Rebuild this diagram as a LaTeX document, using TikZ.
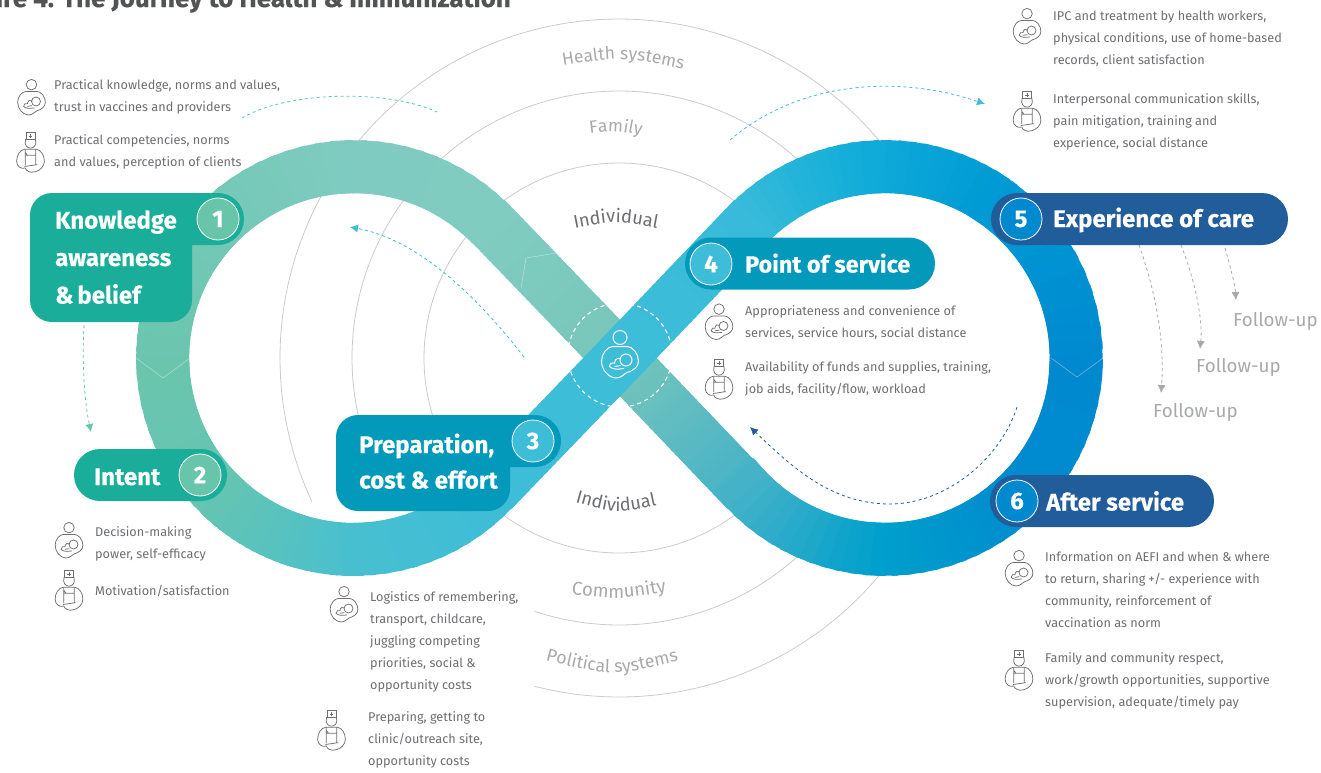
\documentclass[tikz,border=0pt]{standalone}
\usepackage{fontspec}
\setmainfont{Fira Sans}
\usetikzlibrary{arrows.meta,decorations.text}
\definecolor{greenlab}{HTML}{19AD9A}
\definecolor{greencirc}{HTML}{69C5A9}
\definecolor{cyanlab}{HTML}{0299BB}
\definecolor{cyancirc}{HTML}{3DBDD8}
\definecolor{navylab}{HTML}{215C9B}
\definecolor{bluecirc}{HTML}{0089CF}
\definecolor{bodygray}{HTML}{6D6E71}
\definecolor{palegray}{HTML}{A8A9AB}
\definecolor{ringgray}{HTML}{CBCBCB}
\newcommand{\bandline}[6]{%
  \definecolor{stopa}{HTML}{#5}\definecolor{stopb}{HTML}{#6}%
  \foreach \t in {0,...,30}{%
    \pgfmathsetmacro\pct{100*\t/30}%
    \pgfmathsetmacro\ta{\t/30}%
    \pgfmathsetmacro\tb{(\t+1.6)/30}%
    \draw[bandstroke,draw={stopb!\pct!stopa}]
      ({#1+\ta*(#3-(#1))},{#2+\ta*(#4-(#2))}) -- ({#1+\tb*(#3-(#1))},{#2+\tb*(#4-(#2))});
  }}
% centre x, start angle, end angle, colours
\newcommand{\bandarc}[5]{%
  \definecolor{stopa}{HTML}{#4}\definecolor{stopb}{HTML}{#5}%
  \foreach \t in {0,...,12}{%
    \pgfmathsetmacro\pct{100*\t/12}%
    \pgfmathsetmacro\aa{#2+\t/12*(#3-(#2))}%
    \pgfmathsetmacro\ab{#2+(\t+1.6)/12*(#3-(#2))}%
    \draw[bandstroke,draw={stopb!\pct!stopa}]
      ({#1+191.5*cos(\aa)},{358-191.5*sin(\aa)}) -- ({#1+191.5*cos(\ab)},{358-191.5*sin(\ab)});
  }}
\newcommand{\ringarc}[3]{%
  \draw[ringline] plot[smooth,domain=#2:#3,samples=80] ({619+#1*cos(\x)},{358-#1*sin(\x)});}
\newcommand{\bodynote}[4]{%
  \node[bodytext] (#1) at (#2,#3-10) {\rule{0pt}{10pt}#4};}
\tikzset{
  bandstroke/.style={line width=53pt},
  ringline/.style={draw=ringgray,line width=0.8pt},
  bodytext/.style={anchor=north west,inner sep=0pt,align=left,text=bodygray,font=\fontsize{12.7}{22}\selectfont},
  headtext/.style={anchor=base west,inner sep=0pt,text=white,font=\fontsize{24}{26}\selectfont\bfseries\addfontfeature{FakeBold=0.35}},
  numcirc/.style={circle,draw=white,line width=0.8pt,minimum size=42pt,inner sep=0pt,text=white,font=\fontsize{24}{25}\selectfont\bfseries\addfontfeature{FakeBold=0.35}},
  followtext/.style={anchor=base west,inner sep=0pt,text=palegray,font=\fontsize{18.8}{20}\selectfont},
  dashcurve/.style={line width=0.8pt,dash pattern=on 3pt off 3pt},
  tipped/.style={-{Latex[length=8pt,width=8pt]}},
  mother/.pic={
    \draw[pic actions] (0,-16.5) circle[radius=7];
    \draw[pic actions] (-7,-7.5) -- (7,-7.5) .. controls (13,-7.5) and (18.5,0) .. (18.5,7) .. controls (18.5,13) and (13,17) .. (7,18.5) .. controls (4,19.5) and (2,24) .. (-4,24) .. controls (-11,24) and (-18.5,16) .. (-18.5,7) .. controls (-18.5,0) and (-13,-7.5) .. (-7,-7.5) -- cycle;
    \draw[pic actions] (6,6) circle[radius=6];
    \draw[pic actions] (1,5) .. controls (-2,3) and (-5,5) .. (-5.5,9) .. controls (-8,8) and (-10,9) .. (-10.5,12.5) .. controls (-8,15.5) and (-2,15.5) .. (4,14.5) (-5.5,12.5) -- (0.5,11.5);
  },
  worker/.pic={
    \draw[pic actions] (-6,-27) rectangle (6,-18.5);
    \draw[pic actions] (-2.5,-22.7) -- (2.5,-22.7) (0,-25.2) -- (0,-20.2);
    \draw[pic actions] (-6.5,-18.5) .. controls (-9,-10) and (-4,-6.5) .. (0,-6.5) .. controls (4,-6.5) and (9,-10) .. (6.5,-18.5);
    \draw[pic actions] (-8,-5) .. controls (-14,-4) and (-18.5,3) .. (-18.5,11) .. controls (-18.5,18) and (-12,22) .. (-7,20) .. controls (-6,24) and (0,27) .. (6,25) .. controls (12,24) and (18.5,18) .. (18.5,11) .. controls (18.5,3) and (14,-4) .. (8,-5) -- cycle;
    \draw[pic actions] (-7,-5) -- (-7,16) (7,-5) -- (7,15) (-7,3) -- (7,3) (-7,-1) -- (-4,3) (-8,18) -- (9,15.5);
  },
  iconline/.style={draw=bodygray,line width=0.75pt,scale=0.75},
  chev/.style={draw=white,draw opacity=0.45,line width=0.5pt}
}
\begin{document}
\begin{tikzpicture}[x=1pt,y=-1pt]
\useasboundingbox (0,0) rectangle (1321,772);
\clip (0,0) rectangle (1321,772);
% rings
\ringarc{339}{36}{205}
\ringarc{339}{255.6}{320}
\ringarc{267}{46}{215}
\ringarc{267}{251.6}{313}
\ringarc{195}{52}{306}
% curved ring labels
\path[decorate,decoration={text along path,text align=center,text={|\fontsize{17.5}{18}\selectfont\color{palegray}|Health systems}}] (556,67) .. controls (622,56) .. (690,71);
\path[decorate,decoration={text along path,text align=center,text={|\fontsize{17.5}{18}\selectfont\color{palegray}|Family}}] (583,134) .. controls (615,130) .. (648,137);
\path[decorate,decoration={text along path,text align=center,text={|\fontsize{18.3}{18}\selectfont\color{bodygray}|Individual}}] (570,229) .. controls (616,220) .. (662,229);
\path[decorate,decoration={text along path,text align=center,text={|\fontsize{18.3}{18}\selectfont\color{bodygray}|Individual}}] (570,501) .. controls (616,514) .. (662,504);
\path[decorate,decoration={text along path,text align=center,text={|\fontsize{18.6}{18}\selectfont\color{palegray}|Community}}] (567,594) .. controls (619,600) .. (671,591);
\path[decorate,decoration={text along path,text align=center,text={|\fontsize{17.8}{18}\selectfont\color{palegray}|Political systems}}] (541,659) .. controls (612,677) .. (683,660);
% infinity band
\bandline{747}{491}{620}{358}{45B2C8}{78C6BA}
\bandline{620}{358}{492}{225}{78C6BA}{80CCC1}
\bandarc{354}{44}{90}{80CCC1}{7FCBC1}
\bandarc{354}{90}{140}{7FCBC1}{72C8B4}
\bandarc{354}{140}{180}{72C8B4}{6BC5AD}
\bandarc{354}{180}{225}{6BC5AD}{64C4B3}
\bandarc{354}{225}{250}{64C4B3}{55C2C2}
\bandarc{354}{250}{270}{55C2C2}{47BFD0}
\bandarc{354}{270}{316}{47BFD0}{3DBDD8}
\bandline{492}{491}{620}{358}{3DBDD8}{3DBDD8}
\bandline{620}{358}{747}{225}{3DBDD8}{38BBDA}
\bandarc{885}{136}{100}{38BBDA}{12ADD9}
\bandarc{885}{100}{60}{12ADD9}{009BD5}
\bandarc{885}{60}{0}{009BD5}{0089CF}
\bandarc{885}{0}{-45}{0089CF}{008BCF}
\bandarc{885}{-45}{-90}{008BCF}{00A0CC}
\bandarc{885}{-90}{-136}{00A0CC}{45B2C8}
% faint folds
\draw[chev] (136,358) -- (163,378) -- (190,358);
\draw[chev] (1051,358) -- (1077,377) -- (1103,358);
\draw[chev] (521,288) -- (526,258) -- (556,253);
% centre mark
\draw[draw=white,line width=1.1pt,dash pattern=on 4pt off 3.5pt] (620,355) circle[radius=52];
\pic[draw=white,line width=1pt] (centre) at (620,354) {mother};
% dashed curves
\coordinate (ta) at (242,118); \coordinate (tb) at (437,112);
\draw[dashcurve,draw=greencirc!70!cyancirc] (ta) .. controls (290,90) and (390,90) .. (tb);
\coordinate (ca) at (524,357); \coordinate (cb) at (350,227);
\draw[dashcurve,tipped,draw=cyancirc,fill=none] (ca) .. controls (480,300) and (420,240) .. (cb);
\coordinate (da) at (730,140); \coordinate (db) at (985,104);
\draw[dashcurve,tipped,draw=cyancirc] (da) .. controls (800,80) and (900,75) .. (db);
\coordinate (ga) at (84,325); \coordinate (gb) at (91,432);
\draw[dashcurve,tipped,draw=greencirc] (ga) .. controls (82,360) and (84,400) .. (gb);
\coordinate (na) at (1017,407); \coordinate (nm) at (890,504); \coordinate (nb) at (750,427);
\draw[dashcurve,tipped,draw=navylab] (na) .. controls (1000,460) and (945,504) .. (nm) .. controls (830,504) and (790,465) .. (nb);
\coordinate (fa) at (1139,245); \coordinate (fb) at (1161,393);
\draw[dashcurve,tipped,draw=palegray] (fa) .. controls (1155,290) and (1165,340) .. (fb);
\coordinate (fc) at (1181,245); \coordinate (fd) at (1200,349);
\draw[dashcurve,tipped,draw=palegray] (fc) .. controls (1195,280) and (1203,320) .. (fd);
\coordinate (fe) at (1225,248); \coordinate (ff) at (1236,300);
\draw[dashcurve,tipped,draw=palegray] (fe) .. controls (1230,265) and (1235,285) .. (ff);
% label shapes
\fill[greenlab,rounded corners=22pt] (30,245) -- (30,193) -- (100,193) [rounded corners=26pt] -- (244,193) -- (244,245) [sharp corners] -- (192,245) [rounded corners=22pt] -- (192,322) -- (30,322) -- cycle;
\fill[greenlab,rounded corners=26pt] (74,449) rectangle (227,501);
\fill[cyanlab,rounded corners=22pt] (336,467) -- (336,415) -- (400,415) [rounded corners=26pt] -- (561,415) -- (561,467) [sharp corners] -- (510,467) [rounded corners=22pt] -- (510,511) -- (336,511) -- cycle;
\fill[cyanlab,rounded corners=26pt] (685,237.5) rectangle (935,289.5);
\fill[navylab,rounded corners=26pt] (991,193) rectangle (1288,245);
\fill[navylab,rounded corners=26pt] (990,475) rectangle (1214,527);
% numbers
\node[numcirc,fill=greencirc] (n1) at (218,219) {1};
\node[numcirc,fill=greencirc] (n2) at (200,475) {2};
\node[numcirc,fill=cyancirc] (n3) at (533,441) {3};
\node[numcirc,fill=cyancirc] (n4) at (711,264) {4};
\node[numcirc,fill=bluecirc] (n5) at (1021,219) {5};
\node[numcirc,fill=bluecirc] (n6) at (1017,501) {6};
% heads
\node[headtext] (h1a) at (55,228.5) {Knowledge};
\node[headtext] (h1b) at (55,266) {awareness};
\node[headtext] (h1c) at (55,303.5) {\&\,belief};
\node[headtext] (h2) at (94,485) {Intent};
\node[headtext] (h3a) at (359,453) {Preparation,};
\node[headtext] (h3b) at (359,488.5) {cost \& effort};
\node[headtext,font=\fontsize{23.4}{26}\selectfont\bfseries\addfontfeature{FakeBold=0.35}] (h4) at (745,272.5) {Point of service};
\node[headtext] (h5) at (1053,227) {Experience of care};
\node[headtext] (h6) at (1046,510.5) {After service};
% follow-up
\node[followtext] (f1) at (1233,326) {Follow-up};
\node[followtext] (f2) at (1196,372) {Follow-up};
\node[followtext] (f3) at (1153,417) {Follow-up};
% body text
\bodynote{b1}{54}{89}{Practical knowledge, norms and values,\\trust in vaccines and providers}
\bodynote{b2}{54}{144}{Practical competencies, norms\\and values, perception of clients}
\bodynote{b3}{95}{536}{Decision-making\\power, self-efficacy}
\bodynote{b4}{95}{595}{Motivation/satisfaction}
\bodynote{b5}{370}{601}{Logistics of remembering,\\transport, childcare,\\juggling competing\\priorities, social \&\\opportunity costs}
\bodynote{b6}{368}{721}{Preparing, getting to\\clinic/outreach site,\\opportunity costs}
\bodynote{b7}{745}{315}{Appropriateness and convenience of\\services, service hours, social distance}
\bodynote{b8}{745}{371}{Availability of funds and supplies, training,\\job aids, facility/flow, workload}
\bodynote{b9}{1053}{20}{IPC and treatment by health workers,\\physical conditions, use of home-based\\records, client satisfaction}
\bodynote{b10}{1053}{103}{Interpersonal communication skills,\\pain mitigation, training and\\experience, social distance}
\bodynote{b11}{1045}{561}{Information on AEFI and when \& where\\to return, sharing +/- experience with\\community, reinforcement of\\vaccination as norm}
\bodynote{b12}{1045}{662}{Family and community respect,\\work/growth opportunities, supportive\\supervision, adequate/timely pay}
% icons
\pic[iconline] (im1) at (31.5,97) {mother};
\pic[iconline] (iw1) at (30.5,153) {worker};
\pic[iconline] (im2) at (69,540) {mother};
\pic[iconline] (iw2) at (69,591) {worker};
\pic[iconline] (im3) at (344,604) {mother};
\pic[iconline] (iw3) at (331.5,731) {worker};
\pic[iconline] (im4) at (719,321.5) {mother};
\pic[iconline] (iw4) at (719,380) {worker};
\pic[iconline] (im5) at (1027,26) {mother};
\pic[iconline] (iw5) at (1027,112) {worker};
\pic[iconline] (im6) at (1019,568) {mother};
\pic[iconline] (iw6) at (1019,671) {worker};
% title, cut by the page edge
\node[anchor=base east,inner sep=0pt,text=bodygray!75!black,font=\fontsize{25.9}{27}\selectfont\bfseries\addfontfeature{FakeBold=0.4}] (title) at (511,7) {Figure 4. The Journey to Health \& Immunization};
\end{tikzpicture}
\end{document}
